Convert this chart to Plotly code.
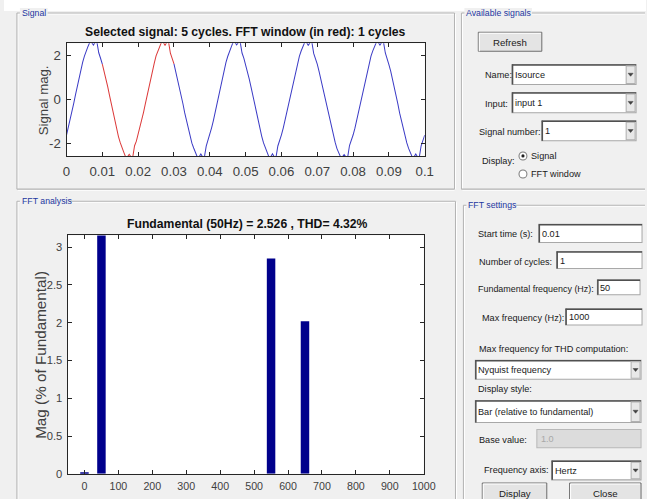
import plotly.graph_objects as go

W, H = 647, 499          # reference picture size (all geometry below is in these pixels)
FW, FH = 658, 508        # figure size (compensates the viewer's downscale)
K = FW / W

# ---------------- data ----------------
time_step_s = 0.0005
signal_values = [
    # cycle 1 (0 .. 0.0195 s)
    -1.62, -1.28, -0.97, -0.55, -0.18, 0.22, 0.61, 0.99, 1.36, 1.70,
    1.99, 2.24, 2.43, 2.62, 2.62, 2.49, 2.62, 2.62, 2.14, 1.89,
    1.62, 1.31, 0.94, 0.59, 0.19, -0.21, -0.59, -0.99, -1.34, -1.69,
    -1.97, -2.23, -2.41, -2.62, -2.62, -2.50, -2.62, -2.62, -2.11, -1.90,
    # cycle 2
    -1.60, -1.31, -0.93, -0.58, -0.20, 0.20, 0.62, 0.97, 1.35, 1.67,
    2.00, 2.21, 2.42, 2.62, 2.62, 2.48, 2.62, 2.62, 2.12, 1.87,
    1.63, 1.28, 0.96, 0.57, 0.21, -0.19, -0.61, -0.97, -1.36, -1.67,
    -1.99, -2.21, -2.43, -2.62, -2.62, -2.49, -2.62, -2.62, -2.13, -1.87,
    # cycle 3
    -1.63, -1.29, -0.96, -0.56, -0.19, 0.21, 0.59, 0.98, 1.34, 1.69,
    1.97, 2.23, 2.41, 2.62, 2.62, 2.50, 2.62, 2.62, 2.13, 1.90,
    1.61, 1.30, 0.95, 0.58, 0.18, -0.20, -0.60, -0.98, -1.33, -1.68,
    -1.98, -2.22, -2.42, -2.62, -2.62, -2.48, -2.62, -2.62, -2.12, -1.89,
    # cycle 4
    -1.61, -1.30, -0.94, -0.57, -0.21, 0.19, 0.60, 0.96, 1.37, 1.68,
    1.98, 2.22, 2.44, 2.62, 2.62, 2.47, 2.62, 2.62, 2.11, 1.88,
    1.62, 1.29, 0.93, 0.60, 0.20, -0.22, -0.58, -0.96, -1.35, -1.70,
    -1.96, -2.24, -2.42, -2.62, -2.62, -2.51, -2.62, -2.62, -2.10, -1.88,
    # cycle 5
    -1.62, -1.32, -0.95, -0.59, -0.17, 0.23, 0.61, 0.97, 1.35, 1.71,
    1.99, 2.23, 2.43, 2.62, 2.62, 2.49, 2.62, 2.62, 2.13, 1.89,
    1.60, 1.30, 0.96, 0.57, 0.19, -0.20, -0.62, -0.97, -1.34, -1.69,
    -1.98, -2.23, -2.41, -2.62, -2.62, -2.49, -2.62, -2.62, -2.11, -1.90,
    # t = 0.1 s
    -1.62,
]
time_s = [round(i * time_step_s, 4) for i in range(len(signal_values))]

fft_start_s = 0.01
fft_cycles = 1
fundamental_hz = 50
window_end_s = fft_start_s + fft_cycles / fundamental_hz

harmonic_freqs = [0, 50, 100, 150, 200, 250, 300, 350, 400, 450, 500,
                  550, 600, 650, 700, 750, 800, 850, 900, 950, 1000]
harmonic_mags = [0.02, 100.0, 0.0, 0.0, 0.0, 0.0, 0.0, 0.0, 0.0, 0.0, 0.0,
                 2.85, 0.0, 2.02, 0.0, 0.0, 0.0, 0.0, 0.0, 0.0, 0.0]

sig_xticks = [0, 0.01, 0.02, 0.03, 0.04, 0.05, 0.06, 0.07, 0.08, 0.09, 0.1]
sig_xlabels = ["0", "0.01", "0.02", "0.03", "0.04", "0.05", "0.06", "0.07", "0.08", "0.09", "0.1"]
sig_yticks = [-2, 0, 2]
sig_ylabels = ["-2", "0", "2"]
fft_xticks = [0, 100, 200, 300, 400, 500, 600, 700, 800, 900, 1000]
fft_xlabels = ["0", "100", "200", "300", "400", "500", "600", "700", "800", "900", "1000"]
fft_yticks = [0, 0.5, 1, 1.5, 2, 2.5, 3]
fft_ylabels = ["0", "0.5", "1", "1.5", "2", "2.5", "3"]

title_signal = "Selected signal: 5 cycles. FFT window (in red): 1 cycles"
title_fft = "Fundamental (50Hz) = 2.526 , THD= 4.32%"

# ---------------- helpers ----------------
def X(px):
    return px / W

def Y(py):
    return 1 - py / H

SANS = "Liberation Sans, Arial, sans-serif"
BG = "#F0F0F0"
shapes = []
annots = []

def rect(x0, y0, x1, y1, fill=None, line=None, lw=1):
    shapes.append(dict(type="rect", xref="paper", yref="paper",
                       x0=X(x0), x1=X(x1), y0=Y(y1), y1=Y(y0),
                       fillcolor=fill if fill else "rgba(0,0,0,0)",
                       line=dict(color=line if line else "rgba(0,0,0,0)", width=lw * K if line else 0),
                       layer="above"))

def hline(x0, x1, y, color, lw=1):
    shapes.append(dict(type="line", xref="paper", yref="paper",
                       x0=X(x0), x1=X(x1), y0=Y(y), y1=Y(y),
                       line=dict(color=color, width=lw * K), layer="above"))

def vline(x, y0, y1, color, lw=1):
    shapes.append(dict(type="line", xref="paper", yref="paper",
                       x0=X(x), x1=X(x), y0=Y(y0), y1=Y(y1),
                       line=dict(color=color, width=lw * K), layer="above"))

def text(x, y, s, size=9, color="#1a1a1a", anchor="left", bold=False, angle=0):
    if bold:
        s = "<b>" + s + "</b>"
    annots.append(dict(xref="paper", yref="paper", x=X(x), y=Y(y), text=s,
                       showarrow=False, xanchor=anchor, yanchor="middle",
                       textangle=angle, borderpad=0,
                       font=dict(family=SANS, size=size * K, color=color)))

def panel(x0, y0, x1, y1, label, lab_w):
    xr = min(x1, W - 1)
    yb = min(y1, H - 1)
    for off, col in ((1, "#FFFFFF"), (0, "#B4B4B4")):
        hline(x0 + off, xr, y0 + off, col)
        vline(x0 + off, y0 + off, yb, col)
        if x1 < W:
            vline(x1 + off, y0 + off, yb, col)
        if y1 < H:
            hline(x0 + off, xr, y1 + off, col)
    rect(x0 + 3, y0 - 5, x0 + 5 + lab_w, y0 + 5, fill=BG)
    text(x0 + 4, y0, label, size=8.6, color="#2337A0")

def textbox(x0, y0, x1, y1, s, fill="#FFFFFF", tcolor="#1a1a1a"):
    rect(x0, y0, x1, y1, fill=fill, line="#A8A8A8")
    hline(x0, x1, y0 + 0.5, "#505050", 1.5)
    vline(x0 + 0.5, y0, y1, "#505050", 1.5)
    text(x0 + 2, (y0 + y1) / 2 + 0.5, s, color=tcolor)

def combo(x0, y0, x1, y1, s):
    textbox(x0, y0, x1, y1, s)
    bx0, bx1 = x1 - 10, x1 - 1
    rect(bx0, y0 + 1.5, bx1, y1 - 1, fill="#E8E8E8", line="#B0B0B0")
    cx, cy = (bx0 + bx1) / 2, (y0 + y1) / 2
    shapes.append(dict(type="path", xref="paper", yref="paper",
                       path="M %f,%f L %f,%f L %f,%f Z" % (X(cx - 2.5), Y(cy - 1.2), X(cx + 2.5), Y(cy - 1.2), X(cx), Y(cy + 1.8)),
                       fillcolor="#404040", line=dict(color="#404040", width=0.5), layer="above"))

def button(x0, y0, x1, y1, s, ty=None):
    yb = min(y1, H - 1)
    rect(x0, y0, x1, yb, fill="#E4E4E4")
    hline(x0, x1, y0, "#6E6E6E")
    vline(x0, y0, yb, "#6E6E6E")
    vline(x1, y0, yb, "#6E6E6E")
    if y1 < H:
        hline(x0, x1, y1, "#6E6E6E")
    hline(x0 + 1, x1 - 1, y0 + 1, "#FFFFFF")
    vline(x0 + 1, y0 + 1, yb, "#FFFFFF")
    text((x0 + x1) / 2, ty if ty else (y0 + y1) / 2 + 0.5, s, size=9.5, anchor="center")

def radio(cx, cy, selected):
    r = 4
    shapes.append(dict(type="circle", xref="paper", yref="paper",
                       x0=X(cx - r), x1=X(cx + r), y0=Y(cy + r), y1=Y(cy - r),
                       fillcolor="#FFFFFF", line=dict(color="#7A7A7A", width=K), layer="above"))
    if selected:
        r2 = 1.6
        shapes.append(dict(type="circle", xref="paper", yref="paper",
                           x0=X(cx - r2), x1=X(cx + r2), y0=Y(cy + r2), y1=Y(cy - r2),
                           fillcolor="#202020", line=dict(color="#202020", width=0), layer="above"))

# ---------------- figure ----------------
eps = 1e-9
in_window = [fft_start_s - eps <= t <= window_end_s + eps for t in time_s]
strict_in = [fft_start_s + eps < t < window_end_s - eps for t in time_s]
blue_v = [None if s else v for v, s in zip(signal_values, strict_in)]
red_v = [v if w else None for v, w in zip(signal_values, in_window)]

fig = go.Figure()
fig.add_trace(go.Scatter(x=time_s, y=blue_v, mode="lines", connectgaps=False,
                         line=dict(color="#3C3CC6", width=K), xaxis="x", yaxis="y",
                         showlegend=False, hoverinfo="skip"))
fig.add_trace(go.Scatter(x=time_s, y=red_v, mode="lines", connectgaps=False,
                         line=dict(color="#DC3A3A", width=K), xaxis="x", yaxis="y",
                         showlegend=False, hoverinfo="skip"))
fig.add_trace(go.Bar(x=harmonic_freqs, y=harmonic_mags, width=25,
                     marker=dict(color="#00008C", line=dict(width=0)),
                     xaxis="x2", yaxis="y2", showlegend=False, hoverinfo="skip"))

axis_common = dict(showline=True, linecolor="#262626", linewidth=K, mirror="ticks",
                   ticks="inside", ticklen=4 * K, tickcolor="#262626", tickwidth=K,
                   showgrid=False, zeroline=False, tickmode="array")

fig.update_layout(
    width=FW, height=FH, margin=dict(l=0, r=0, t=0, b=0),
    paper_bgcolor=BG, plot_bgcolor="#FFFFFF",
    xaxis=dict(domain=[X(63), X(424)], anchor="y", range=[0, 0.1],
               tickvals=sig_xticks, ticktext=sig_xlabels,
               tickfont=dict(family=SANS, size=13 * K, color="#404040"),
               ticklabelstandoff=3, **axis_common),
    yaxis=dict(domain=[Y(155), Y(43)], anchor="x", range=[-2.575, 2.575],
               tickvals=sig_yticks, ticktext=sig_ylabels,
               tickfont=dict(family=SANS, size=13 * K, color="#404040"),
               ticklabelstandoff=2, **axis_common),
    xaxis2=dict(domain=[X(64), X(423)], anchor="y2", range=[-50, 1000],
                tickvals=fft_xticks, ticktext=fft_xlabels,
                tickfont=dict(family=SANS, size=10.5 * K, color="#404040"),
                ticklabelstandoff=2, **axis_common),
    yaxis2=dict(domain=[Y(471), Y(234)], anchor="x2", range=[0, 3.156],
                tickvals=fft_yticks, ticktext=fft_ylabels,
                tickfont=dict(family=SANS, size=11 * K, color="#404040"),
                ticklabelstandoff=2, **axis_common),
)

# top white strip
rect(0, 0, W, 11, fill="#FFFFFF")

# panels
panel(13, 13, 454, 188, "Signal", 26)
panel(13, 200, 455, 600, "FFT analysis", 48)
panel(461, 13, 700, 188, "Available signals", 66)
panel(463, 204, 700, 600, "FFT settings", 48)

# plot titles / axis titles
text(243, 32, title_signal, size=12, color="#111111", anchor="center", bold=True)
text(245, 223, title_fft, size=12, color="#111111", anchor="center", bold=True)
text(40, 100, "Signal mag.", size=13, color="#404040", anchor="center", angle=-90)
text(36, 353, "Mag (% of Fundamental)", size=15, color="#404040", anchor="center", angle=-90)

# Available signals controls
button(478, 32, 542, 51, "Refresh")
text(484, 75, "Name:")
combo(512, 64, 637, 84, "Isource")
text(484, 103, "Input:")
combo(512, 92, 637, 112, "input 1")
text(478, 131, "Signal number:")
combo(542, 120, 637, 140, "1")
text(481, 160, "Display:")
radio(523, 155, True)
text(530, 155, "Signal")
radio(523, 173, False)
text(530, 173, "FFT window")

# FFT settings controls
text(477, 233, "Start time (s):")
textbox(539, 223, 643, 241, "0.01")
text(478, 260, "Number of cycles:")
textbox(557, 250, 643, 267, "1")
text(477, 287, "Fundamental frequency (Hz):", size=8.8)
textbox(598, 278, 641, 293, "50")
text(481, 316, "Max frequency (Hz):")
textbox(566, 307, 643, 323, "1000")
text(478, 347, "Max frequency for THD computation:")
combo(475, 358, 642, 377, "Nyquist frequency")
text(477, 387, "Display style:")
combo(475, 398, 642, 420, "Bar (relative to fundamental)")
text(478, 437, "Base value:")
rect(537, 427, 642, 445, fill="#DCDCDC", line="#B8B8B8")
text(540, 436.5, "1.0", color="#A8A8A8")
text(483, 467, "Frequency axis:")
combo(552, 458, 642, 477, "Hertz")
button(482, 480, 547, 520, "Display", ty=491)
button(570, 480, 642, 520, "Close", ty=491)

fig.update_layout(shapes=shapes, annotations=annots)

page_fix = ("document.documentElement.style.margin='0';document.documentElement.style.padding='0';"
            "document.body.style.margin='0';document.body.style.padding='0';"
            "document.documentElement.style.overflow='hidden';document.body.style.overflow='hidden';")
fig.write_html("out.html", post_script=page_fix)
